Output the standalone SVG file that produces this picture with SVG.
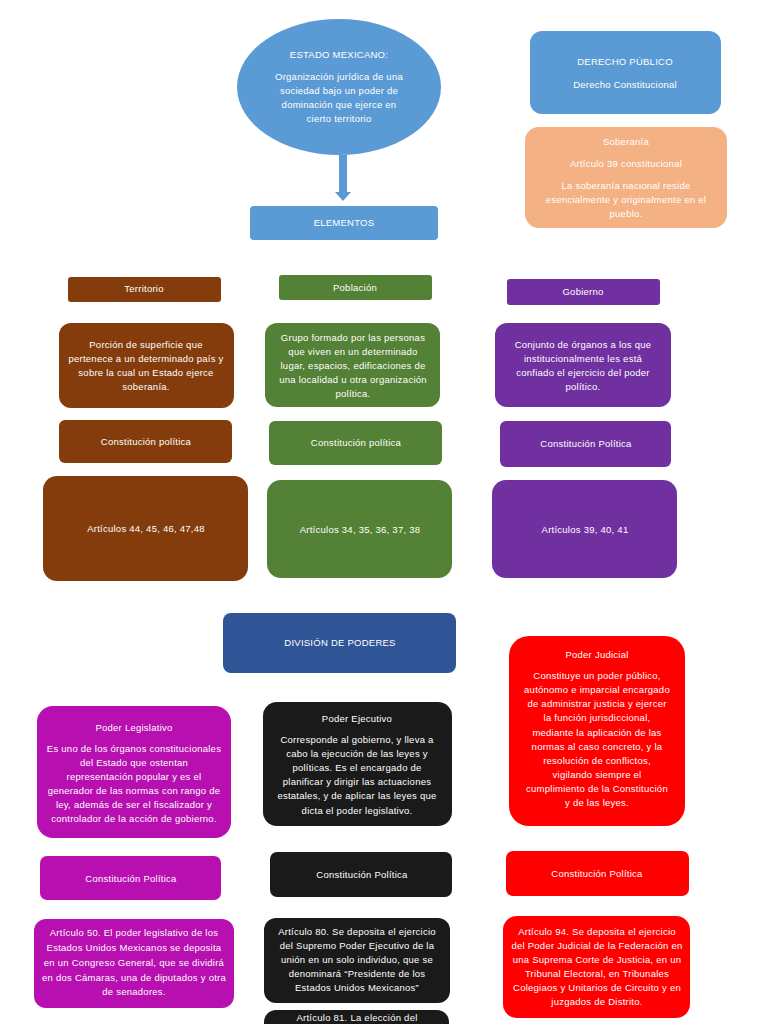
<svg xmlns="http://www.w3.org/2000/svg" width="768" height="1024" viewBox="0 0 768 1024">
<style>
text{font-family:"Liberation Sans","Open Sans",Arial,sans-serif;font-size:9.5px;letter-spacing:0.25px;fill:#fff;text-anchor:middle}
.blue{fill:#5B9BD5}.orange{fill:#F4B183}.brown{fill:#843C0C}.green{fill:#538135}.purple{fill:#7030A0}
.navy{fill:#2F5597}.mag{fill:#B80FB0}.blk{fill:#1A1A1A}.red{fill:#FF0000}
</style>
<rect width="768" height="1024" fill="#fff"/>
<g id="connectors">
<path d="M339,155 V192 H335 L343,201 L351,192 H347 V155 Z" fill="#5B9BD5"/>
</g>
<g id="estado"><ellipse cx="339" cy="87" rx="102" ry="68" class="blue"/>
<text x="339" y="58">ESTADO MEXICANO:</text>
<text x="339" y="80">Organización jurídica de una</text>
<text x="339" y="94">sociedad bajo un poder de</text>
<text x="339" y="108">dominación que ejerce en</text>
<text x="339" y="122">cierto territorio</text></g>
<g id="derecho"><rect x="530" y="31" width="191" height="83" rx="12" class="blue"/>
<text x="625" y="65">DERECHO PÚBLICO</text>
<text x="625" y="88">Derecho Constitucional</text></g>
<g id="soberania"><rect x="525" y="127" width="202" height="101" rx="14" class="orange"/>
<text x="626" y="145">Soberanía</text>
<text x="626" y="167">Artículo 39 constitucional</text>
<text x="626" y="189">La soberanía nacional reside</text>
<text x="626" y="203">esencialmente y originalmente en el</text>
<text x="626" y="217">pueblo.</text></g>
<g id="elementos"><rect x="250" y="206" width="188" height="34" rx="4" class="blue"/>
<text x="344" y="226">ELEMENTOS</text></g>

<g id="territorio"><rect x="68" y="277" width="153" height="25" rx="3" class="brown"/>
<text x="144" y="292">Territorio</text></g>
<g id="poblacion"><rect x="279" y="275" width="153" height="25" rx="3" class="green"/>
<text x="355" y="291">Población</text></g>
<g id="gobierno"><rect x="507" y="279" width="153" height="26" rx="3" class="purple"/>
<text x="583" y="295">Gobierno</text></g>

<g id="territorio-def"><rect x="59" y="323" width="175" height="85" rx="12" class="brown"/>
<text x="146" y="348">Porción de superficie que</text>
<text x="146" y="362">pertenece a un determinado país y</text>
<text x="146" y="376">sobre la cual un Estado ejerce</text>
<text x="146" y="390">soberanía.</text></g>
<g id="poblacion-def"><rect x="265" y="323" width="175" height="84" rx="12" class="green"/>
<text x="353" y="341">Grupo formado por las personas</text>
<text x="353" y="355">que viven en un determinado</text>
<text x="353" y="369">lugar, espacios, edificaciones de</text>
<text x="353" y="383">una localidad u otra organización</text>
<text x="353" y="397">política.</text></g>
<g id="gobierno-def"><rect x="495" y="323" width="176" height="84" rx="12" class="purple"/>
<text x="583" y="348">Conjunto de órganos a los que</text>
<text x="583" y="362">institucionalmente les está</text>
<text x="583" y="376">confiado el ejercicio del poder</text>
<text x="583" y="390">político.</text></g>

<g id="territorio-cp"><rect x="59" y="420" width="173" height="43" rx="6" class="brown"/>
<text x="146" y="445">Constitución política</text></g>
<g id="poblacion-cp"><rect x="269" y="421" width="173" height="44" rx="6" class="green"/>
<text x="356" y="446">Constitución política</text></g>
<g id="gobierno-cp"><rect x="500" y="421" width="171" height="46" rx="6" class="purple"/>
<text x="586" y="447">Constitución Política</text></g>

<g id="territorio-art"><rect x="43" y="476" width="205" height="105" rx="14" class="brown"/>
<text x="146" y="532">Artículos 44, 45, 46, 47,48</text></g>
<g id="poblacion-art"><rect x="267" y="480" width="185" height="98" rx="14" class="green"/>
<text x="360" y="533">Artículos 34, 35, 36, 37, 38</text></g>
<g id="gobierno-art"><rect x="492" y="480" width="185" height="98" rx="14" class="purple"/>
<text x="585" y="533">Artículos 39, 40, 41</text></g>

<g id="division"><rect x="223" y="613" width="233" height="60" rx="8" class="navy"/>
<text x="340" y="646">DIVISIÓN DE PODERES</text></g>

<g id="legislativo"><rect x="37" y="706" width="194" height="132" rx="16" class="mag"/>
<text x="134" y="731">Poder Legislativo</text>
<text x="134" y="752">Es uno de los órganos constitucionales</text>
<text x="134" y="766">del Estado que ostentan</text>
<text x="134" y="780">representación popular y es el</text>
<text x="134" y="794">generador de las normas con rango de</text>
<text x="134" y="808">ley, además de ser el fiscalizador y</text>
<text x="134" y="822">controlador de la acción de gobierno.</text></g>
<g id="ejecutivo"><rect x="263" y="702" width="189" height="124" rx="14" class="blk"/>
<text x="357" y="722">Poder Ejecutivo</text>
<text x="357" y="743">Corresponde al gobierno, y lleva a</text>
<text x="357" y="757">cabo la ejecución de las leyes y</text>
<text x="357" y="771">políticas. Es el encargado de</text>
<text x="357" y="785">planificar y dirigir las actuaciones</text>
<text x="357" y="799">estatales, y de aplicar las leyes que</text>
<text x="357" y="814">dicta el poder legislativo.</text></g>
<g id="judicial"><rect x="509" y="636" width="176" height="190" rx="20" class="red"/>
<text x="597" y="658">Poder Judicial</text>
<text x="597" y="679">Constituye un poder público,</text>
<text x="597" y="693">autónomo e imparcial encargado</text>
<text x="597" y="707">de administrar justicia y ejercer</text>
<text x="597" y="721">la función jurisdiccional,</text>
<text x="597" y="736">mediante la aplicación de las</text>
<text x="597" y="750">normas al caso concreto, y la</text>
<text x="597" y="764">resolución de conflictos,</text>
<text x="597" y="778">vigilando siempre el</text>
<text x="597" y="792">cumplimiento de la Constitución</text>
<text x="597" y="806">y de las leyes.</text></g>

<g id="legislativo-cp"><rect x="40" y="856" width="181" height="44" rx="7" class="mag"/>
<text x="131" y="882">Constitución Política</text></g>
<g id="ejecutivo-cp"><rect x="270" y="852" width="182" height="45" rx="7" class="blk"/>
<text x="362" y="878">Constitución Política</text></g>
<g id="judicial-cp"><rect x="506" y="851" width="183" height="45" rx="7" class="red"/>
<text x="597" y="877">Constitución Política</text></g>

<g id="legislativo-art"><rect x="34" y="919" width="200" height="89" rx="12" class="mag"/>
<text x="134" y="936">Artículo 50. El poder legislativo de los</text>
<text x="134" y="951">Estados Unidos Mexicanos se deposita</text>
<text x="134" y="966">en un Congreso General, que se dividirá</text>
<text x="134" y="981">en dos Cámaras, una de diputados y otra</text>
<text x="134" y="995">de senadores.</text></g>
<g id="ejecutivo-art"><rect x="264" y="918" width="186" height="85" rx="12" class="blk"/>
<text x="357" y="935">Artículo 80. Se deposita el ejercicio</text>
<text x="357" y="949">del Supremo Poder Ejecutivo de la</text>
<text x="357" y="963">unión en un solo individuo, que se</text>
<text x="357" y="977">denominará “Presidente de los</text>
<text x="357" y="991">Estados Unidos Mexicanos”</text></g>
<g id="judicial-art"><rect x="503" y="916" width="187" height="102" rx="14" class="red"/>
<text x="597" y="935">Artículo 94. Se deposita el ejercicio</text>
<text x="597" y="949">del Poder Judicial de la Federación en</text>
<text x="597" y="963">una Suprema Corte de Justicia, en un</text>
<text x="597" y="977">Tribunal Electoral, en Tribunales</text>
<text x="597" y="991">Colegiaos y Unitarios de Circuito y en</text>
<text x="597" y="1005">juzgados de Distrito.</text></g>
<g id="ejecutivo-art81"><rect x="264" y="1010" width="185" height="40" rx="12" class="blk"/>
<text x="357" y="1021">Artículo 81. La elección del</text></g>
</svg>
